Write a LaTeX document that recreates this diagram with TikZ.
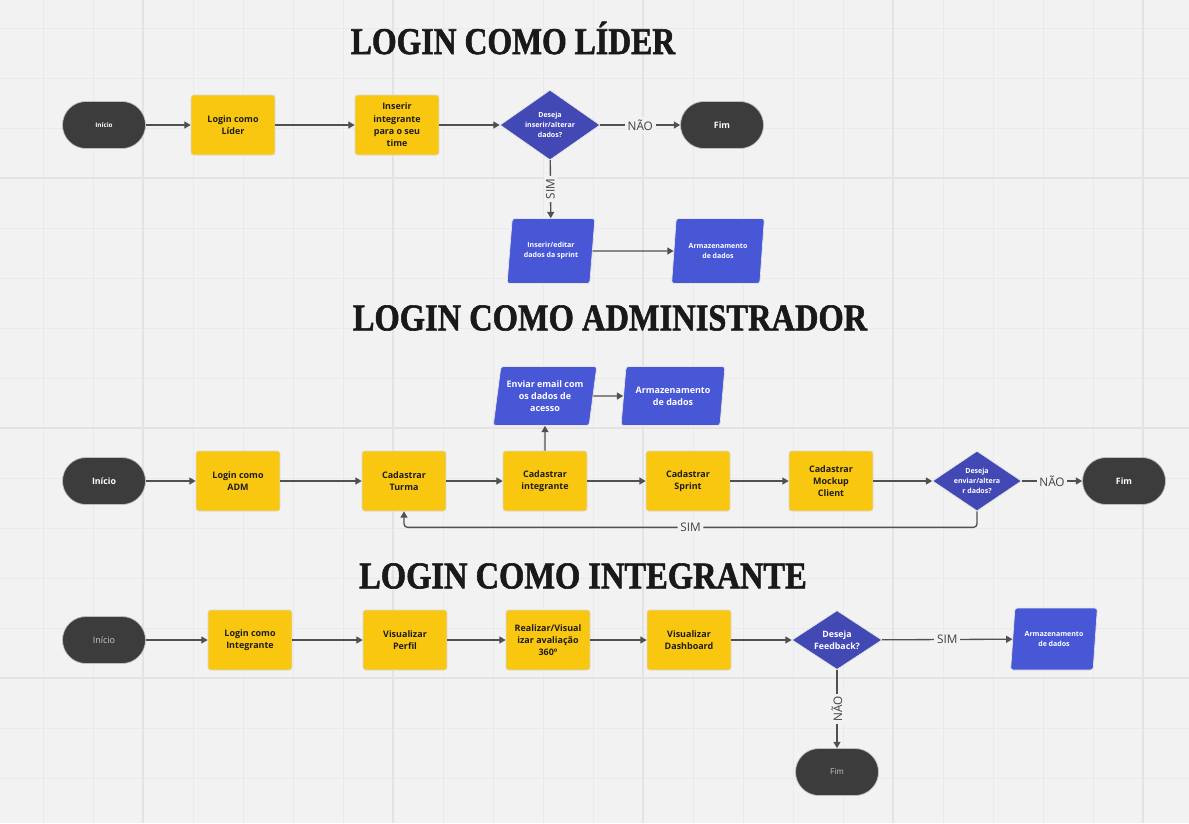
\documentclass[tikz,border=0pt]{standalone}
\usepackage{fontspec}
\setmainfont{Open Sans}
\newfontfamily\titlefont{Liberation Serif}[BoldFeatures={FakeBold=1.6}]
\usetikzlibrary{shapes.geometric,arrows.meta,positioning}
\definecolor{bgpaper}{HTML}{F2F2F2}
\definecolor{gridminor}{HTML}{EAEAEA}
\definecolor{gridmajor}{HTML}{E3E3E3}
\definecolor{boxyellow}{HTML}{FAC710}
\definecolor{parablue}{HTML}{4757D5}
\definecolor{decblue}{HTML}{4349B4}
\definecolor{termgray}{HTML}{3C3C3C}
\definecolor{linegray}{HTML}{505050}
\definecolor{textdark}{HTML}{1E1E1E}

\begin{document}
\begin{tikzpicture}[x=0.02cm, y=-0.02cm,
    term/.style={rectangle, rounded corners=0.47cm, fill=termgray, draw=black!25, line width=0.4pt,
        minimum width=1.66cm, minimum height=0.94cm, text=white, font=\fontsize{5}{6}\selectfont\bfseries},
    proc/.style={rectangle, rounded corners=1.5pt, fill=boxyellow, draw=black!15, line width=0.4pt,
        minimum width=1.68cm, minimum height=1.2cm, inner sep=2pt, align=center, text=textdark,
        font=\fontsize{5.1}{7}\selectfont\bfseries},
    decision/.style={diamond, aspect=1.5, fill=decblue, draw=black!10, line width=0.4pt, inner sep=0pt, align=center,
        text=white, font=\fontsize{4}{5.7}\selectfont\bfseries},
    data/.style={trapezium, trapezium left angle=78, trapezium right angle=102, trapezium stretches=true,
        fill=parablue, draw=black!10, line width=0.4pt, rounded corners=1.5pt, inner sep=0pt, align=center,
        text=white, font=\fontsize{4}{5.7}\selectfont\bfseries},
    flow/.style={draw=linegray, line width=0.75pt, -{Triangle[length=3.6pt,width=4pt]}},
    answer/.style={fill=bgpaper, text=black!75, inner sep=1.5pt, font=\fontsize{6.7}{8}\selectfont},
    heading/.style={text=black!90, font=\titlefont\fontsize{21.5}{22}\selectfont\bfseries}
]
    % Paper and grid
    \fill[bgpaper] (0,0) rectangle (1189,823);
    \useasboundingbox (0,0) rectangle (1189,823);
    \foreach \gx in {43,93,...,1189} \draw[gridminor, line width=0.5pt] (\gx,0) -- (\gx,823);
    \foreach \gy in {28,78,...,823} \draw[gridminor, line width=0.5pt] (0,\gy) -- (1189,\gy);
    \foreach \gx in {143,393,643,893,1143} \draw[gridmajor, line width=0.7pt] (\gx,0) -- (\gx,823);
    \foreach \gy in {178,428,678} \draw[gridmajor, line width=0.7pt] (0,\gy) -- (1189,\gy);

    % Login como lider
    \node[heading] (tLider) at (513,38) {\scalebox{0.84}[1]{LOGIN COMO LÍDER}};
    \node[term, font=\fontsize{3.6}{4}\selectfont\bfseries] (inicioA) at (104,125) {Início};
    \node[proc] (loginLider) at (233,125) {Login como\\Líder};
    \node[proc] (inserirInt) at (397,125) {Inserir\\integrante\\para o seu\\time};
    \node[decision, minimum width=2cm, minimum height=1.4cm] (desejaA) at (550,125) {Deseja\\inserir/alterar\\dados?};
    \node[term] (fimA) at (722,125) {Fim};
    \node[data, minimum width=1.76cm, minimum height=1.3cm] (inserirDados) at (551,251) {Inserir/editar\\dados da sprint};
    \node[data, minimum width=1.86cm, minimum height=1.3cm] (armazA) at (718,251) {Armazenamento\\de dados};

    \draw[flow] (inicioA) -- (loginLider);
    \draw[flow] (loginLider) -- (inserirInt);
    \draw[flow] (inserirInt) -- (desejaA);
    \draw[flow] (desejaA) -- node[answer] {NÃO} (fimA);
    \draw[flow] (desejaA) -- node[answer, rotate=90] {SIM} (inserirDados);
    \draw[flow] (inserirDados) -- (armazA);

    % Login como administrador
    \node[heading] (tAdm) at (610,318) {\scalebox{0.86}[1]{LOGIN COMO ADMINISTRADOR}};
    \node[term] (inicioB) at (104,481) {Início};
    \node[proc] (loginAdm) at (238,481) {Login como\\ADM};
    \node[proc] (cadTurma) at (404,481) {Cadastrar\\Turma};
    \node[proc] (cadInt) at (545,481) {Cadastrar\\integrante};
    \node[proc] (cadSprint) at (688,481) {Cadastrar\\Sprint};
    \node[proc] (cadMockup) at (831,481) {Cadastrar\\Mockup\\Client};
    \node[decision, minimum width=1.78cm, minimum height=1.2cm] (desejaB) at (977,481) {Deseja\\enviar/altera\\r dados?};
    \node[term] (fimB) at (1124,481) {Fim};
    \node[data, minimum width=2.08cm, minimum height=1.18cm, font=\fontsize{5.1}{7}\selectfont\bfseries] (enviarEmail) at (545,396) {Enviar email com\\os dados de\\acesso};
    \node[data, minimum width=2.08cm, minimum height=1.18cm, font=\fontsize{5.1}{7}\selectfont\bfseries] (armazB) at (673,396) {Armazenamento\\de dados};

    \draw[flow] (inicioB) -- (loginAdm);
    \draw[flow] (loginAdm) -- (cadTurma);
    \draw[flow] (cadTurma) -- (cadInt);
    \draw[flow] (cadInt) -- (cadSprint);
    \draw[flow] (cadSprint) -- (cadMockup);
    \draw[flow] (cadMockup) -- (desejaB);
    \draw[flow] (desejaB) -- node[answer] {NÃO} (fimB);
    \draw[flow, rounded corners=2pt] (desejaB.south) -- ++(0,16) -| node[answer, pos=0.25] {SIM} (cadTurma.south);
    \draw[flow] (cadInt) -- (enviarEmail);
    \draw[flow] (enviarEmail) -- (armazB);

    % Login como integrante
    \node[heading] (tInt) at (583,576) {\scalebox{0.86}[1]{LOGIN COMO INTEGRANTE}};
    \node[term, text=black!20, font=\fontsize{5.1}{6}\selectfont] (inicioC) at (104,640) {Início};
    \node[proc] (loginInt) at (250,640) {Login como\\Integrante};
    \node[proc] (verPerfil) at (405,640) {Visualizar\\Perfil};
    \node[proc] (avaliacao) at (548,640) {Realizar/Visual\\izar avaliação\\360º};
    \node[proc] (verDash) at (689,640) {Visualizar\\Dashboard};
    \node[decision, minimum width=1.8cm, minimum height=1.18cm, font=\fontsize{5}{7}\selectfont\bfseries] (desejaC) at (837,640) {Deseja\\Feedback?};
    \node[data, minimum width=1.74cm, minimum height=1.24cm] (armazC) at (1054,639) {Armazenamento\\de dados};
    \node[term, text=black!20, font=\fontsize{4.6}{6}\selectfont] (fimC) at (837,772) {Fim};

    \draw[flow] (inicioC) -- (loginInt);
    \draw[flow] (loginInt) -- (verPerfil);
    \draw[flow] (verPerfil) -- (avaliacao);
    \draw[flow] (avaliacao) -- (verDash);
    \draw[flow] (verDash) -- (desejaC);
    \draw[flow] (desejaC) -- node[answer] {SIM} (armazC);
    \draw[flow] (desejaC) -- node[answer, rotate=90] {NÃO} (fimC);
\end{tikzpicture}
\end{document}
